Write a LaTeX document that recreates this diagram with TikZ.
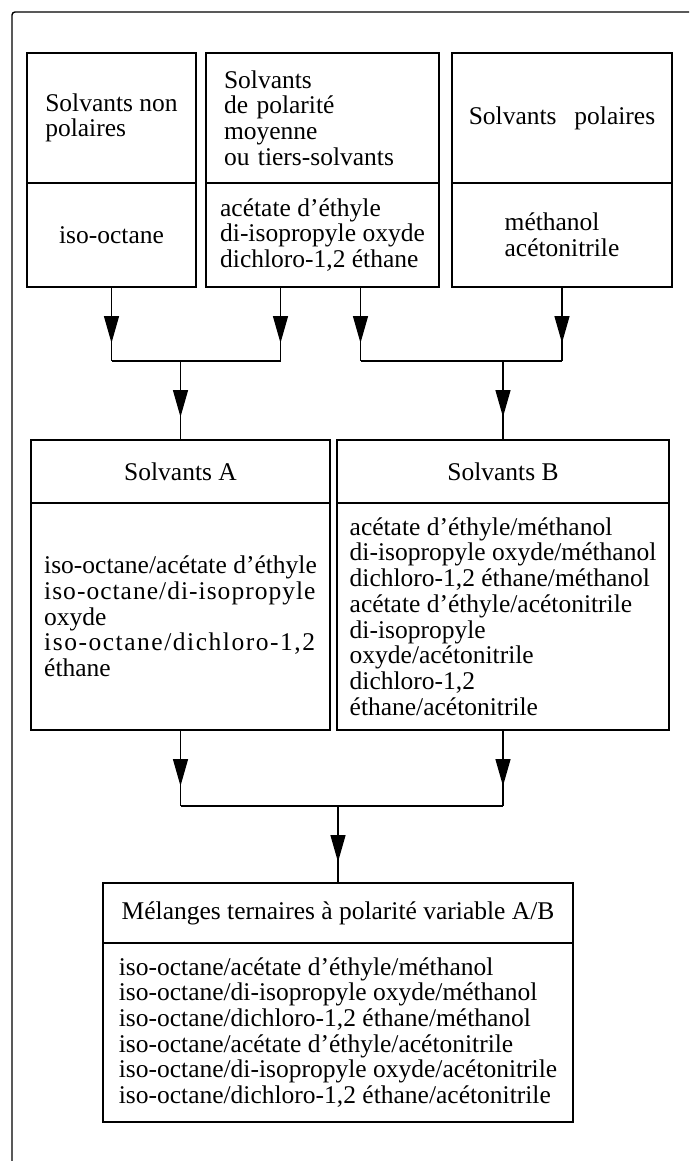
\documentclass[tikz,border=0pt]{standalone}
\usepackage{fontspec}
\setmainfont{Liberation Serif}
\usetikzlibrary{positioning, arrows.meta, decorations.markings}
\newcommand{\lettresp}[2]{{\addfontfeature{LetterSpace=#1}#2}}

\begin{document}
\begin{tikzpicture}[x=1pt, y=-1pt,
    every node/.style={font=\fontsize{25.5}{25.7}\selectfont},
    box/.style={draw, line width=2.4pt, outer sep=0pt, inner sep=0pt, align=left},
    wire/.style={line width=1.4pt},
    link/.style={wire, postaction={decorate}, decoration={markings,
        mark=at position 56pt with {\arrow{Triangle[length=27pt, width=15pt]}}}}]
    \useasboundingbox (0,0) rectangle (689,1161);
    % Khung ngoài
    \draw[wire, rounded corners=3pt] (689,12) -- (12,12) -- (12,1161);
    % Hàng trên
    \node[box, minimum width=169pt, minimum height=130pt, anchor=north west] (npHead) at (27,53) {Solvants non\\polaires};
    \node[box, minimum width=169pt, minimum height=104pt, below=0pt of npHead, align=center] (npBody) {iso-octane};
    \node[box, minimum width=233pt, minimum height=130pt, text width=197pt, inner xsep=18pt, anchor=north west] (mpHead) at (206,53) {Solvants\\de polarité\\moyenne\\ou tiers-solvants};
    \node[box, minimum width=233pt, minimum height=104pt, below=0pt of mpHead] (mpBody) {acétate d’éthyle\\di-isopropyle oxyde\\dichloro-1,2 éthane};
    \node[box, minimum width=220pt, minimum height=130pt, anchor=north west] (pHead) at (452,53) {Solvants\hspace{0.7em}polaires};
    \node[box, minimum width=220pt, minimum height=104pt, below=0pt of pHead] (pBody) {méthanol\\acétonitrile};
    % Hàng giữa
    \node[box, minimum width=299pt, minimum height=63pt, anchor=north west] (aHead) at (31,440) {Solvants A};
    \node[box, minimum width=299pt, minimum height=227pt, below=0pt of aHead] (aBody) {iso-octane/acétate d’éthyle\\\lettresp{4}{iso-octane/di-isopropyle}\\oxyde\\\lettresp{6}{iso-octane/dichloro-1,2}\\éthane};
    \node[box, minimum width=332pt, minimum height=63pt, anchor=north west] (bHead) at (337,440) {Solvants B};
    \node[box, minimum width=332pt, minimum height=227pt, below=0pt of bHead] (bBody) {acétate d’éthyle/méthanol\\di-isopropyle oxyde/méthanol\\dichloro-1,2 éthane/méthanol\\acétate d’éthyle/acétonitrile\\di-isopropyle\\oxyde/acétonitrile\\dichloro-1,2\\éthane/acétonitrile};
    % Hộp dưới
    \node[box, minimum width=470pt, minimum height=60pt, anchor=north west] (mixHead) at (103,883) {Mélanges ternaires à polarité variable A/B};
    \node[box, minimum width=470pt, minimum height=179pt, below=0pt of mixHead] (mixBody) {iso-octane/acétate d’éthyle/méthanol\\iso-octane/di-isopropyle oxyde/méthanol\\iso-octane/dichloro-1,2 éthane/méthanol\\iso-octane/acétate d’éthyle/acétonitrile\\iso-octane/di-isopropyle oxyde/acétonitrile\\iso-octane/dichloro-1,2 éthane/acétonitrile};
    % Đường nối
    \coordinate (upJ) at (0,361);
    \coordinate (loJ) at (0,806);
    \draw[link] (npBody.south) -- (npBody.south |- upJ);
    \draw[link] ([xshift=-42pt]mpBody.south) -- ([xshift=-42pt]mpBody.south |- upJ);
    \draw[link] ([xshift=38pt]mpBody.south) -- ([xshift=38pt]mpBody.south |- upJ);
    \draw[link] (pBody.south) -- (pBody.south |- upJ);
    \draw[wire] (npBody.south |- upJ) -- ([xshift=-42pt]mpBody.south |- upJ);
    \draw[wire] ([xshift=38pt]mpBody.south |- upJ) -- (pBody.south |- upJ);
    \draw[link] (aHead.north |- upJ) -- (aHead.north);
    \draw[link] (bHead.north |- upJ) -- (bHead.north);
    \draw[link] (aBody.south) -- (aBody.south |- loJ);
    \draw[link] (bBody.south) -- (bBody.south |- loJ);
    \draw[wire] (aBody.south |- loJ) -- (bBody.south |- loJ);
    \draw[link] (mixHead.north |- loJ) -- (mixHead.north);
\end{tikzpicture}
\end{document}
